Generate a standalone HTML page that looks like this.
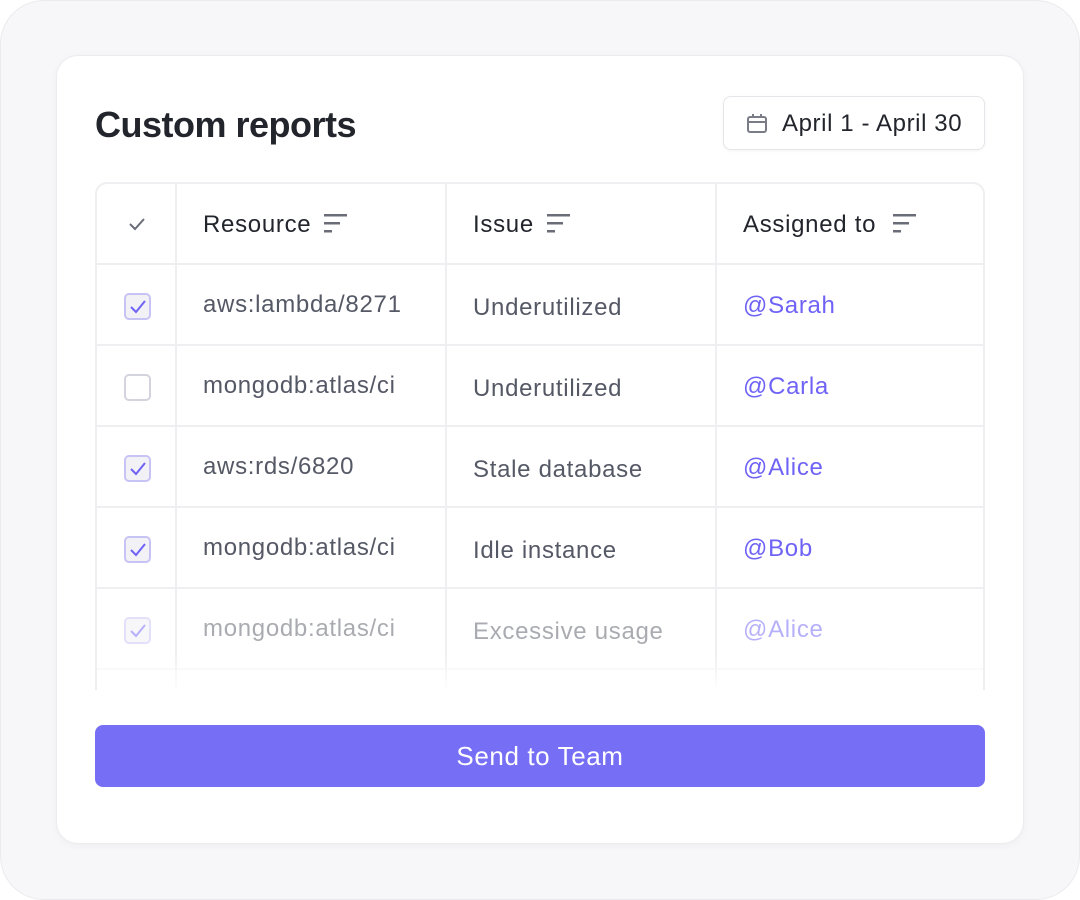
<!DOCTYPE html>
<html><head><style>
*{margin:0;padding:0;box-sizing:border-box}
body{width:1080px;height:900px;background:#fff;position:relative;overflow:hidden;font-family:"Liberation Sans",sans-serif}
.outer{position:absolute;left:0;top:0;width:1080px;height:900px;border-radius:44px;background:#f7f7f9;border:1px solid #ebebef}
.card{position:absolute;left:56px;top:55px;width:968px;height:789px;background:#fff;border-radius:22px;border:1px solid #ececf0;box-shadow:0 2px 8px rgba(0,0,0,0.04)}
.title{position:absolute;left:95px;top:104px;font-size:36px;font-weight:bold;color:#23252c;letter-spacing:-0.5px}
.date{position:absolute;left:723px;top:96px;width:262px;height:54px;border:1px solid #e6e6ea;border-radius:8px;box-shadow:0 1px 3px rgba(0,0,0,0.05)}
.date span{position:absolute;left:58px;top:13px;font-size:24px;color:#23252c;letter-spacing:0.6px}
.tablewrap{position:absolute;left:95px;top:182px;width:890px;height:508px;overflow:hidden;border:2px solid #efeff2;border-bottom:none;border-radius:12px 12px 0 0}
.row{position:absolute;left:0;width:890px;height:81px;border-bottom:2px solid #efeff2}
.vl{position:absolute;top:0;width:2px;height:100%;background:#efeff2}
.t{position:absolute;font-size:24px;color:#555966;letter-spacing:0.7px}
.h{color:#23252c}
.a{color:#6f63f6}
.cb{position:absolute;left:27px;width:27px;height:27px;border:2px solid #d4d4de;border-radius:5px;background:#fff}
.cb.on{background:#f1f1f6;border-color:#c8c3f5}
.btn{position:absolute;left:95px;top:725px;width:890px;height:62px;background:#776ef6;border-radius:8px;color:#fff;font-size:26px;text-align:center;line-height:62px;letter-spacing:0.6px}
</style></head><body>
<div class="outer"></div>
<div class="card"></div>
<div class="title">Custom reports</div>
<div class="date">
<svg style="position:absolute;left:22px;top:16px" width="22" height="22" viewBox="0 0 22 22"><rect x="2" y="4" width="18" height="15" rx="2" fill="none" stroke="#7a7d88" stroke-width="2"/><line x1="2" y1="9" x2="20" y2="9" stroke="#7a7d88" stroke-width="2"/><line x1="7" y1="1" x2="7" y2="5" stroke="#7a7d88" stroke-width="2"/><line x1="15" y1="1" x2="15" y2="5" stroke="#7a7d88" stroke-width="2"/></svg>
<span>April 1 - April 30</span></div>

<div class="tablewrap">
<div class="vl" style="left:78px"></div><div class="vl" style="left:348px"></div><div class="vl" style="left:618px"></div>
<div class="row" style="top:0">
<svg style="position:absolute;left:31px;top:32px" width="18" height="16" viewBox="0 0 18 16"><path d="M2 8 L7 13 L16 3" fill="none" stroke="#6a6d78" stroke-width="2"/></svg>
<div class="t h" style="left:106px;top:27px">Resource</div>
<div class="t h" style="left:376px;top:27px">Issue</div>
<div class="t h" style="left:646px;top:27px">Assigned to</div>
<svg style="position:absolute;left:227px;top:30px" width="24" height="20"><rect x="0" y="0" width="23" height="2.5" fill="#6a6d78"/><rect x="0" y="8" width="16" height="2.5" fill="#6a6d78"/><rect x="0" y="16" width="8" height="2.5" fill="#6a6d78"/></svg>
<svg style="position:absolute;left:450px;top:30px" width="24" height="20"><rect x="0" y="0" width="23" height="2.5" fill="#6a6d78"/><rect x="0" y="8" width="16" height="2.5" fill="#6a6d78"/><rect x="0" y="16" width="8" height="2.5" fill="#6a6d78"/></svg>
<svg style="position:absolute;left:796px;top:30px" width="24" height="20"><rect x="0" y="0" width="23" height="2.5" fill="#6a6d78"/><rect x="0" y="8" width="16" height="2.5" fill="#6a6d78"/><rect x="0" y="16" width="8" height="2.5" fill="#6a6d78"/></svg>
</div>

<div class="row" style="top:81px"><div class="cb on" style="top:28px"><svg width="23" height="23"><path d="M5 12 L10 17 L19 6" fill="none" stroke="#6f63f6" stroke-width="2"/></svg></div>
<div class="t" style="left:106px;top:26px">aws:lambda/8271</div><div class="t" style="left:376px;top:29px">Underutilized</div><div class="t a" style="left:646px;top:27px">@Sarah</div></div>

<div class="row" style="top:162px"><div class="cb" style="top:28px"></div>
<div class="t" style="left:106px;top:26px">mongodb:atlas/ci</div><div class="t" style="left:376px;top:29px">Underutilized</div><div class="t a" style="left:646px;top:27px">@Carla</div></div>

<div class="row" style="top:243px"><div class="cb on" style="top:28px"><svg width="23" height="23"><path d="M5 12 L10 17 L19 6" fill="none" stroke="#6f63f6" stroke-width="2"/></svg></div>
<div class="t" style="left:106px;top:26px">aws:rds/6820</div><div class="t" style="left:376px;top:29px">Stale database</div><div class="t a" style="left:646px;top:27px">@Alice</div></div>

<div class="row" style="top:324px"><div class="cb on" style="top:28px"><svg width="23" height="23"><path d="M5 12 L10 17 L19 6" fill="none" stroke="#6f63f6" stroke-width="2"/></svg></div>
<div class="t" style="left:106px;top:26px">mongodb:atlas/ci</div><div class="t" style="left:376px;top:29px">Idle instance</div><div class="t a" style="left:646px;top:27px">@Bob</div></div>

<div class="row" style="top:405px;opacity:0.5"><div class="cb on" style="top:28px"><svg width="23" height="23"><path d="M5 12 L10 17 L19 6" fill="none" stroke="#6f63f6" stroke-width="2"/></svg></div>
<div class="t" style="left:106px;top:26px">mongodb:atlas/ci</div><div class="t" style="left:376px;top:29px">Excessive usage</div><div class="t a" style="left:646px;top:27px">@Alice</div></div>

<div class="row" style="top:486px;opacity:0.1;border:none"><div class="cb" style="top:28px"></div>
<div class="t" style="left:106px;top:26px">aws:ec2/1234</div></div>
<div style="position:absolute;left:0;top:470px;width:890px;height:40px;background:linear-gradient(rgba(255,255,255,0),#fff)"></div>
</div>

<div class="btn">Send to Team</div>
</body></html>
